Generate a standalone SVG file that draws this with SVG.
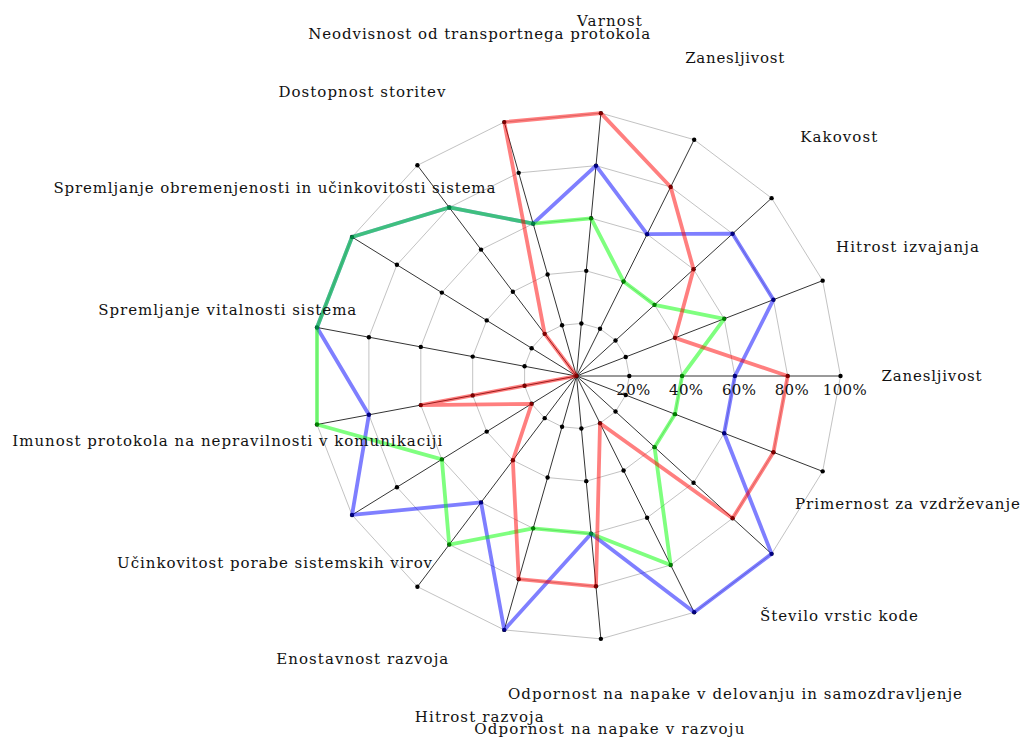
<svg xmlns="http://www.w3.org/2000/svg" width="1024" height="740" viewBox="0 0 1024 740">
  <style>
    .grid { fill: none; stroke: #b3b3b3; stroke-width: 0.8; }
    .axis { fill: none; stroke: #000; stroke-width: 0.8; }
    .dot { fill: #000; }
    .series { fill: none; stroke-width: 3.8; stroke-opacity: 0.5; stroke-linejoin: round; }
    .lbl { font-family: "DejaVu Serif", "Liberation Serif", serif; font-size: 15px; fill: #111; text-anchor: middle; }
  </style>
  <defs>
    <circle id="d" r="2.2" class="dot"/>
  </defs>
  <rect width="1024" height="740" fill="#fff"/>

  <g id="chart" transform="translate(576.5,376)">
    <!-- concentric 17-gon grid: 20%..100% -->
    <g id="grid">
      <polygon class="grid" points="52.8,0 49.23,-19.07 39.02,-35.57 23.53,-47.26 4.87,-52.57 -14.45,-50.78 -31.82,-42.13 -44.89,-27.8 -51.9,-9.7 -51.9,9.7 -44.89,27.8 -31.82,42.13 -14.45,50.78 4.87,52.57 23.53,47.26 39.02,35.57 49.23,19.07"/>
      <polygon class="grid" points="105.6,0 98.47,-38.15 78.04,-71.14 47.07,-94.53 9.74,-105.15 -28.9,-101.57 -63.64,-84.27 -89.78,-55.59 -103.8,-19.4 -103.8,19.4 -89.78,55.59 -63.64,84.27 -28.9,101.57 9.74,105.15 47.07,94.53 78.04,71.14 98.47,38.15"/>
      <polygon class="grid" points="158.4,0 147.7,-57.22 117.06,-106.71 70.6,-141.79 14.62,-157.72 -43.35,-152.35 -95.46,-126.41 -134.67,-83.39 -155.7,-29.11 -155.7,29.11 -134.67,83.39 -95.46,126.41 -43.35,152.35 14.62,157.72 70.6,141.79 117.06,106.71 147.7,57.22"/>
      <polygon class="grid" points="211.2,0 196.94,-76.29 156.08,-142.29 94.14,-189.06 19.49,-210.3 -57.8,-203.14 -127.28,-168.54 -179.57,-111.18 -207.6,-38.81 -207.6,38.81 -179.57,111.18 -127.28,168.54 -57.8,203.14 19.49,210.3 94.14,189.06 156.08,142.29 196.94,76.29"/>
      <polygon class="grid" points="264,0 246.17,-95.37 195.1,-177.86 117.68,-236.32 24.36,-262.87 -72.25,-253.92 -159.09,-210.68 -224.46,-138.98 -259.5,-48.51 -259.5,48.51 -224.46,138.98 -159.09,210.68 -72.25,253.92 24.36,262.87 117.68,236.32 195.1,177.86 246.17,95.37"/>
    </g>

    <!-- spokes -->
    <path id="axes" class="axis" d="M0,0L264,0 M0,0L246.17,-95.37 M0,0L195.1,-177.86 M0,0L117.68,-236.32 M0,0L24.36,-262.87 M0,0L-72.25,-253.92 M0,0L-159.09,-210.68 M0,0L-224.46,-138.98 M0,0L-259.5,-48.51 M0,0L-259.5,48.51 M0,0L-224.46,138.98 M0,0L-159.09,210.68 M0,0L-72.25,253.92 M0,0L24.36,262.87 M0,0L117.68,236.32 M0,0L195.1,177.86 M0,0L246.17,95.37"/>

    <!-- tick marks on every spoke -->
    <g id="ticks">
      <use href="#d" x="0" y="0"/>
      <use href="#d" x="52.8" y="0"/><use href="#d" x="105.6" y="0"/><use href="#d" x="158.4" y="0"/><use href="#d" x="211.2" y="0"/><use href="#d" x="264" y="0"/>
      <use href="#d" x="49.23" y="-19.07"/><use href="#d" x="98.47" y="-38.15"/><use href="#d" x="147.7" y="-57.22"/><use href="#d" x="196.94" y="-76.29"/><use href="#d" x="246.17" y="-95.37"/>
      <use href="#d" x="39.02" y="-35.57"/><use href="#d" x="78.04" y="-71.14"/><use href="#d" x="117.06" y="-106.71"/><use href="#d" x="156.08" y="-142.29"/><use href="#d" x="195.1" y="-177.86"/>
      <use href="#d" x="23.53" y="-47.26"/><use href="#d" x="47.07" y="-94.53"/><use href="#d" x="70.6" y="-141.79"/><use href="#d" x="94.14" y="-189.06"/><use href="#d" x="117.68" y="-236.32"/>
      <use href="#d" x="4.87" y="-52.57"/><use href="#d" x="9.74" y="-105.15"/><use href="#d" x="14.62" y="-157.72"/><use href="#d" x="19.49" y="-210.3"/><use href="#d" x="24.36" y="-262.87"/>
      <use href="#d" x="-14.45" y="-50.78"/><use href="#d" x="-28.9" y="-101.57"/><use href="#d" x="-43.35" y="-152.35"/><use href="#d" x="-57.8" y="-203.14"/><use href="#d" x="-72.25" y="-253.92"/>
      <use href="#d" x="-31.82" y="-42.13"/><use href="#d" x="-63.64" y="-84.27"/><use href="#d" x="-95.46" y="-126.41"/><use href="#d" x="-127.28" y="-168.54"/><use href="#d" x="-159.09" y="-210.68"/>
      <use href="#d" x="-44.89" y="-27.8"/><use href="#d" x="-89.78" y="-55.59"/><use href="#d" x="-134.67" y="-83.39"/><use href="#d" x="-179.57" y="-111.18"/><use href="#d" x="-224.46" y="-138.98"/>
      <use href="#d" x="-51.9" y="-9.7"/><use href="#d" x="-103.8" y="-19.4"/><use href="#d" x="-155.7" y="-29.11"/><use href="#d" x="-207.6" y="-38.81"/><use href="#d" x="-259.5" y="-48.51"/>
      <use href="#d" x="-51.9" y="9.7"/><use href="#d" x="-103.8" y="19.4"/><use href="#d" x="-155.7" y="29.11"/><use href="#d" x="-207.6" y="38.81"/><use href="#d" x="-259.5" y="48.51"/>
      <use href="#d" x="-44.89" y="27.8"/><use href="#d" x="-89.78" y="55.59"/><use href="#d" x="-134.67" y="83.39"/><use href="#d" x="-179.57" y="111.18"/><use href="#d" x="-224.46" y="138.98"/>
      <use href="#d" x="-31.82" y="42.13"/><use href="#d" x="-63.64" y="84.27"/><use href="#d" x="-95.46" y="126.41"/><use href="#d" x="-127.28" y="168.54"/><use href="#d" x="-159.09" y="210.68"/>
      <use href="#d" x="-14.45" y="50.78"/><use href="#d" x="-28.9" y="101.57"/><use href="#d" x="-43.35" y="152.35"/><use href="#d" x="-57.8" y="203.14"/><use href="#d" x="-72.25" y="253.92"/>
      <use href="#d" x="4.87" y="52.57"/><use href="#d" x="9.74" y="105.15"/><use href="#d" x="14.62" y="157.72"/><use href="#d" x="19.49" y="210.3"/><use href="#d" x="24.36" y="262.87"/>
      <use href="#d" x="23.53" y="47.26"/><use href="#d" x="47.07" y="94.53"/><use href="#d" x="70.6" y="141.79"/><use href="#d" x="94.14" y="189.06"/><use href="#d" x="117.68" y="236.32"/>
      <use href="#d" x="39.02" y="35.57"/><use href="#d" x="78.04" y="71.14"/><use href="#d" x="117.06" y="106.71"/><use href="#d" x="156.08" y="142.29"/><use href="#d" x="195.1" y="177.86"/>
      <use href="#d" x="49.23" y="19.07"/><use href="#d" x="98.47" y="38.15"/><use href="#d" x="147.7" y="57.22"/><use href="#d" x="196.94" y="76.29"/><use href="#d" x="246.17" y="95.37"/>
    </g>

    <!-- data series -->
    <polygon id="series-blue" class="series" stroke="#0000ff" points="158.4,0 196.94,-76.29 156.08,-142.29 70.6,-141.79 19.49,-210.3 -43.35,-152.35 -127.28,-168.54 -224.46,-138.98 -259.5,-48.51 -207.6,38.81 -224.46,138.98 -95.46,126.41 -72.25,253.92 14.62,157.72 117.68,236.32 195.1,177.86 147.7,57.22"/>
    <polygon id="series-green" class="series" stroke="#00ff00" points="105.6,0 147.7,-57.22 78.04,-71.14 47.07,-94.53 14.62,-157.72 -43.35,-152.35 -127.28,-168.54 -224.46,-138.98 -259.5,-48.51 -259.5,48.51 -134.67,83.39 -127.28,168.54 -43.35,152.35 14.62,157.72 94.14,189.06 78.04,71.14 98.47,38.15"/>
    <polygon id="series-red" class="series" stroke="#ff0000" points="211.2,0 98.47,-38.15 117.06,-106.71 94.14,-189.06 24.36,-262.87 -72.25,-253.92 -31.82,-42.13 0,0 0,0 -155.7,29.11 -44.89,27.8 -63.64,84.27 -57.8,203.14 19.49,210.3 23.53,47.26 156.08,142.29 196.94,76.29"/>
  </g>

  <!-- scale labels along the 0° spoke -->
  <g id="scale">
    <text class="lbl" x="633.3" y="394.5" textLength="34" lengthAdjust="spacing">20%</text>
    <text class="lbl" x="686.1" y="394.5" textLength="34" lengthAdjust="spacing">40%</text>
    <text class="lbl" x="738.9" y="394.5" textLength="34" lengthAdjust="spacing">60%</text>
    <text class="lbl" x="791.7" y="394.5" textLength="34" lengthAdjust="spacing">80%</text>
    <text class="lbl" x="844.8" y="394.5" textLength="44" lengthAdjust="spacing">100%</text>
  </g>

  <!-- criterion labels -->
  <g id="labels">
    <text class="lbl" x="931.5" y="380.5" textLength="100" lengthAdjust="spacing">Zanesljivost</text>
    <text class="lbl" x="907.5" y="252.3" textLength="143" lengthAdjust="spacing">Hitrost izvajanja</text>
    <text class="lbl" x="838.7" y="142" textLength="77" lengthAdjust="spacing">Kakovost</text>
    <text class="lbl" x="734.7" y="62.5" textLength="99" lengthAdjust="spacing">Zanesljivost</text>
    <text class="lbl" x="609.4" y="26" textLength="65" lengthAdjust="spacing">Varnost</text>
    <text class="lbl" x="479.2" y="38.5" textLength="342" lengthAdjust="spacing">Neodvisnost od transportnega protokola</text>
    <text class="lbl" x="362" y="97" textLength="167" lengthAdjust="spacing">Dostopnost storitev</text>
    <text class="lbl" x="274.4" y="193.3" textLength="442" lengthAdjust="spacing">Spremljanje obremenjenosti in učinkovitosti sistema</text>
    <text class="lbl" x="227.3" y="315.2" textLength="258" lengthAdjust="spacing">Spremljanje vitalnosti sistema</text>
    <text class="lbl" x="227.3" y="445.7" textLength="430" lengthAdjust="spacing">Imunost protokola na nepravilnosti v komunikaciji</text>
    <text class="lbl" x="274.6" y="567.6" textLength="315" lengthAdjust="spacing">Učinkovitost porabe sistemskih virov</text>
    <text class="lbl" x="362.3" y="663.6" textLength="172" lengthAdjust="spacing">Enostavnost razvoja</text>
    <text class="lbl" x="479.3" y="721.5" textLength="129" lengthAdjust="spacing">Hitrost razvoja</text>
    <text class="lbl" x="609.3" y="733.5" textLength="270" lengthAdjust="spacing">Odpornost na napake v razvoju</text>
    <text class="lbl" x="735" y="698.5" textLength="454" lengthAdjust="spacing">Odpornost na napake v delovanju in samozdravljenje</text>
    <text class="lbl" x="839" y="620.5" textLength="158" lengthAdjust="spacing">Število vrstic kode</text>
    <text class="lbl" x="907.5" y="508.5" textLength="225" lengthAdjust="spacing">Primernost za vzdrževanje</text>
  </g>
</svg>
